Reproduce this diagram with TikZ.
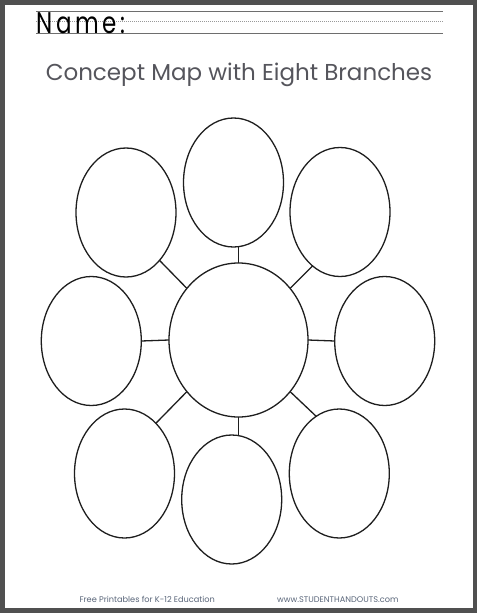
\documentclass[tikz,border=0pt]{standalone}
\usepackage{fontspec}
\setmainfont{Poppins}
\newfontfamily\namefont[LetterSpace=16]{Poppins}
\usetikzlibrary{shapes.geometric}
\definecolor{frame}{RGB}{80,80,80}
\definecolor{rule}{RGB}{110,110,110}
\definecolor{titlec}{RGB}{85,85,92}
\definecolor{footc}{RGB}{90,102,122}
\definecolor{inkc}{RGB}{30,30,30}
\tikzset{
  bub/.style={ellipse, draw=inkc, line width=1.3pt, inner sep=0pt, outer sep=0pt,
              minimum width=100pt, minimum height=129pt},
  hub/.style={ellipse, draw=inkc, line width=1.3pt, inner sep=0pt, outer sep=0pt,
              minimum width=139pt, minimum height=154pt},
  link/.style={draw=inkc, line width=1.3pt},
  wline/.style={draw=rule, line width=0.8pt},
  dline/.style={draw=rule!70, line width=0.6pt, dash pattern=on 0.8pt off 1.2pt},
}
\begin{document}
\begin{tikzpicture}[x=1pt,y=-1pt]
\useasboundingbox (0,0) rectangle (477,613);
\fill[frame] (0,0) rectangle (477,613);
\fill[white] (5,5) rectangle (473,608);
% name lines
\coordinate (l1a) at (36,11);   \coordinate (l1b) at (443,11);
\coordinate (l2a) at (36,21.3); \coordinate (l2b) at (443,21.3);
\coordinate (l3a) at (36,33.3); \coordinate (l3b) at (443,33.3);
\draw[wline] (l1a) -- (l1b);
\draw[dline] (l2a) -- (l2b);
\draw[wline] (l3a) -- (l3b);
\node[anchor=base west, inner sep=0pt] (name) at (36,33)
  {\scalebox{1}[1.3]{\namefont\fontsize{23}{24}\selectfont Name:}};
% title
\node[anchor=base, inner sep=0pt, text=titlec, font=\fontsize{23}{25}\selectfont] (title) at (239,80) {Concept Map with Eight Branches};
% bubbles
\node[hub] (c) at (238.5,340) {};
\node[bub] (t)  at (233.5,182.5) {};
\node[bub] (tl) at (126,212.5) {};
\node[bub] (tr) at (340,212) {};
\node[bub] (l)  at (91.3,341) {};
\node[bub] (r)  at (384.7,341) {};
\node[bub] (bl) at (124.5,473.5) {};
\node[bub] (b)  at (231.7,499.5) {};
\node[bub] (br) at (339.3,473.5) {};
% connectors
\draw[link] (c.north) -- (c.north |- t.south);
\draw[link] (c.south) -- (c.south |- b.north);
\draw[link] (c.west) -- (l.east);
\draw[link] (c.east) -- (r.west);
\draw[link] (c.135) -- (tl.-55);
\draw[link] (c.45) -- (tr.-117);
\draw[link] (c.225) -- (bl.58.5);
\draw[link] (c.-45) -- (br.112.9);
% footer
\node[anchor=base west, inner sep=0pt, text=footc, font=\fontsize{8.2}{9}\selectfont] (f1) at (79.3,602) {Free Printables for K-12 Education};
\node[anchor=base west, inner sep=0pt, text=footc, font=\fontsize{8.2}{9}\selectfont] (f2) at (277,602) {www.STUDENTHANDOUTS.com};
\end{tikzpicture}
\end{document}
